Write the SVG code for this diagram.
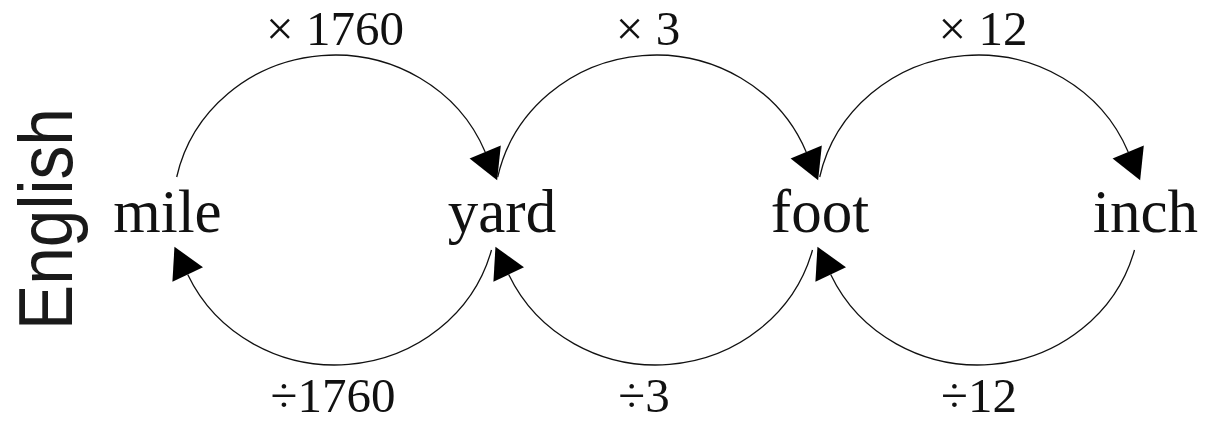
<svg xmlns="http://www.w3.org/2000/svg" width="1210" height="423" viewBox="0 0 1210 423">
  <style>
    .node { font-family: "Liberation Serif", "Times New Roman", serif; font-size: 61px; fill: #111; text-anchor: middle; }
    .lbl { font-family: "Liberation Serif", "Times New Roman", serif; font-size: 49px; fill: #111; text-anchor: middle; }
    .title { font-family: "Liberation Sans", Arial, sans-serif; font-size: 76px; fill: #1a1a1a; text-anchor: middle; }
    .arc { fill: none; stroke: #111; stroke-width: 1.3; marker-end: url(#arrow); }
  </style>
  <defs>
    <marker id="arrow" markerUnits="userSpaceOnUse" markerWidth="32" markerHeight="36" refX="0" refY="0" viewBox="0 -17 30 34" orient="auto" overflow="visible">
      <path d="M0,-16 L29,0 L0,16 Z" fill="#000"/>
    </marker>
  </defs>
  <rect width="1210" height="423" fill="#fff"/>

  <g id="title">
    <text class="title" transform="translate(72,219) rotate(-90)" textLength="222" lengthAdjust="spacingAndGlyphs">English</text>
  </g>

  <g id="connectors">
    <path id="mile-yard" class="arc" d="M176.7,177 A162,155 0 0 1 485.2,152"/>
    <path id="yard-foot" class="arc" d="M497.7,177 A162,155 0 0 1 806.2,152"/>
    <path id="foot-inch" class="arc" d="M819.7,177 A162,155 0 0 1 1128.2,152"/>
    <path id="yard-mile" class="arc" d="M491.5,250 A162,155 0 0 1 187.7,274.5"/>
    <path id="foot-yard" class="arc" d="M812.5,250 A162,155 0 0 1 508.7,274.5"/>
    <path id="inch-foot" class="arc" d="M1134.5,250 A162,155 0 0 1 830.7,274.5"/>
    <text class="lbl" x="335" y="45">× 1760</text>
    <text class="lbl" x="648" y="45">× 3</text>
    <text class="lbl" x="983" y="45">× 12</text>
    <text class="lbl" x="333" y="412">÷1760</text>
    <text class="lbl" x="644" y="412">÷3</text>
    <text class="lbl" x="979" y="412">÷12</text>
  </g>

  <g id="mile"><text class="node" x="167.5" y="232">mile</text></g>
  <g id="yard"><text class="node" x="502" y="232">yard</text></g>
  <g id="foot"><text class="node" x="820" y="232">foot</text></g>
  <g id="inch"><text class="node" x="1145.5" y="232">inch</text></g>
</svg>
